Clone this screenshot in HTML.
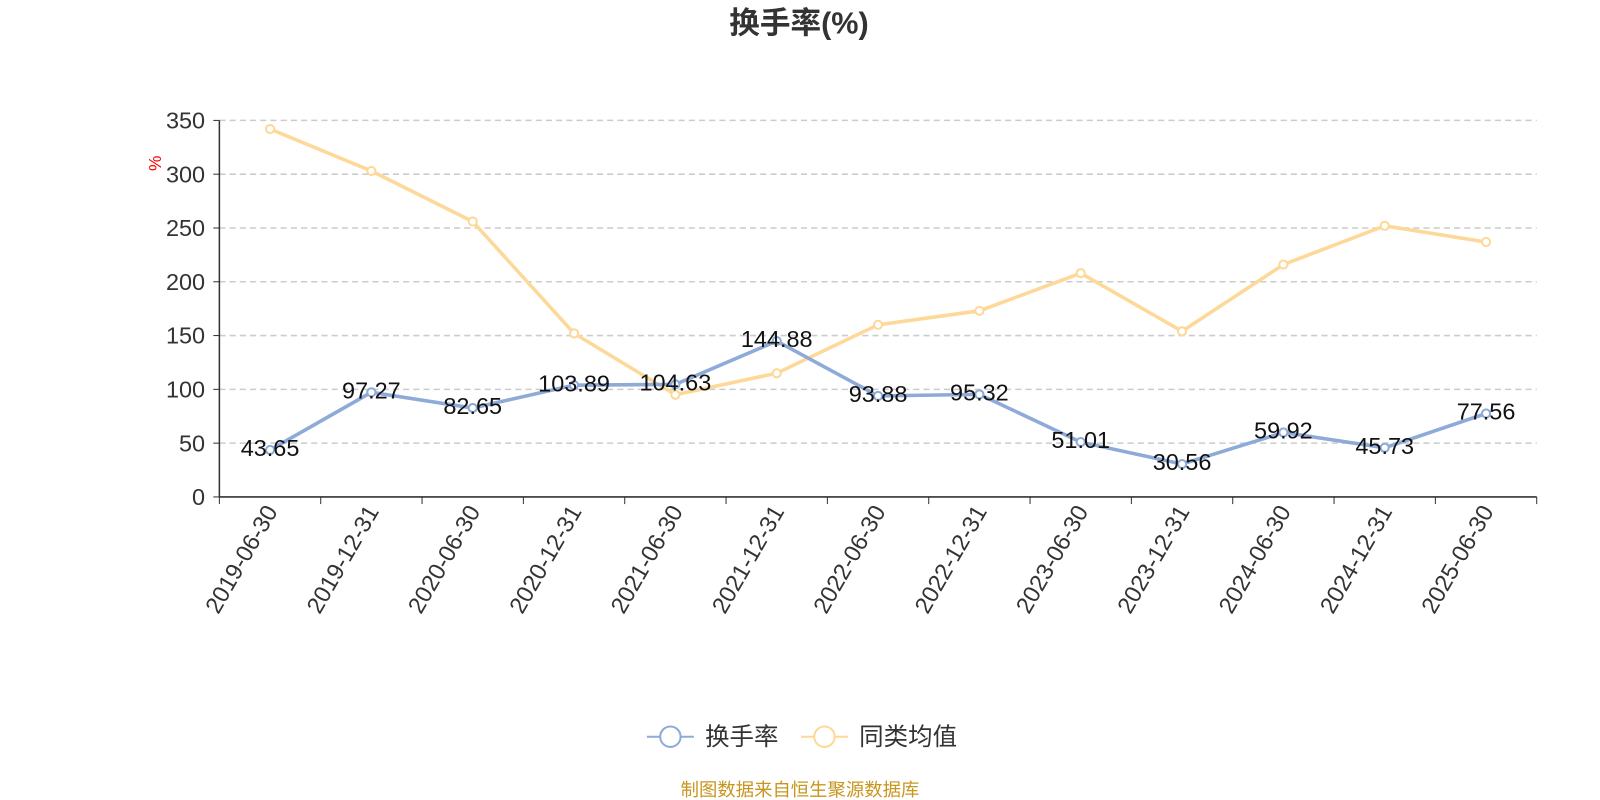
<!DOCTYPE html>
<html><head><meta charset="utf-8"><style>
body{margin:0;background:#fff;}
svg{display:block;font-family:"Liberation Sans","Noto Sans CJK SC",sans-serif;}
</style></head><body>
<svg id="chart" width="1600" height="800">
<g transform="scale(1.0204)">
<text x="783" y="33" text-anchor="middle" font-size="30" font-weight="bold" fill="#333">换手率(%)</text>
<text x="0" y="0" transform="translate(158,160) rotate(-90)" text-anchor="middle" font-size="17" fill="red">%</text>
<g id="grid"></g><g id="axes"></g><g id="series"></g>
<g>
<g>
<line x1="634" y1="722" x2="680" y2="722" stroke="#8eaad8" stroke-width="2"/>
<circle cx="657" cy="722" r="10" fill="#fff" stroke="#8eaad8" stroke-width="2"/>
<text x="691" y="730" font-size="24" fill="#333">换手率</text></g>
<g>
<line x1="785" y1="722" x2="831" y2="722" stroke="#fdd899" stroke-width="2"/>
<circle cx="808" cy="722" r="10" fill="#fff" stroke="#fdd899" stroke-width="2"/>
<text x="842" y="730" font-size="24" fill="#333">同类均值</text></g>
</g>
<text x="784" y="780" text-anchor="middle" font-size="18" fill="#c8961e">制图数据来自恒生聚源数据库</text>
</g>
</svg>
<script>
const categories=["2019-06-30","2019-12-31","2020-06-30","2020-12-31","2021-06-30","2021-12-31","2022-06-30","2022-12-31","2023-06-30","2023-12-31","2024-06-30","2024-12-31","2025-06-30"];
const turnover=[43.65,97.27,82.65,103.89,104.63,144.88,93.88,95.32,51.01,30.56,59.92,45.73,77.56];
const peerAvg=[342,303,256,152,95,115,160,173,208,154,216,252,237];
const yTicks=[0,50,100,150,200,250,300,350];
const NS="http://www.w3.org/2000/svg";
const L=215,R=1506,T=118,B=487,yMax=350;
const bw=(R-L)/categories.length;
const xPos=i=>L+bw*(i+0.5);
const yPos=v=>B-(v/yMax)*(B-T);
function mk(tag,attrs,parent){const e=document.createElementNS(NS,tag);for(const k in attrs)e.setAttribute(k,attrs[k]);parent.appendChild(e);return e;}
const grid=document.getElementById('grid'),axes=document.getElementById('axes'),ser=document.getElementById('series');
yTicks.forEach(v=>{
 if(v>0){const g=mk('line',{x1:L,x2:R,y1:yPos(v),y2:yPos(v),stroke:'#ccc','stroke-dasharray':'6,4','stroke-width':1.5},grid);
 
 }
 mk('line',{x1:L-6,x2:L,y1:yPos(v),y2:yPos(v),stroke:'#333'},axes);
 const tx=mk('text',{x:L-14,y:yPos(v)+8,'text-anchor':'end','font-size':23,fill:'#333'},axes);
 tx.textContent=v;
 
 
});
const ya=mk('line',{x1:L,x2:L,y1:T,y2:B,stroke:'#333','stroke-width':1.5},axes);


const xa=mk('line',{x1:L,x2:R,y1:B,y2:B,stroke:'#333','stroke-width':1.5},axes);


for(let i=0;i<=categories.length;i++){mk('line',{x1:L+bw*i,x2:L+bw*i,y1:B,y2:B+7,stroke:'#333'},axes);}
categories.forEach((c,i)=>{
 const x=xPos(i);
 const t=mk('text',{x:0,y:0,transform:`translate(${x+8},${B+14}) rotate(-60)`,'text-anchor':'end','font-size':23,fill:'#333'},axes);
 t.textContent=c;
 
 
});
function drawLine(vals,color,name){
 const p=mk('polyline',{points:vals.map((v,i)=>xPos(i)+','+yPos(v)).join(' '),fill:'none',stroke:color,'stroke-width':3.5},ser);
 
 
 vals.forEach((v,i)=>{
  const c=mk('circle',{cx:xPos(i),cy:yPos(v),r:4,fill:'#fff',stroke:color,'stroke-width':2},ser);
  
  
 });
}
drawLine(peerAvg,'#fdd899','peer-average');
drawLine(turnover,'#8eaad8','turnover');
turnover.forEach((v,i)=>{
 const t=mk('text',{x:xPos(i),y:yPos(v)+6,'text-anchor':'middle','font-size':23,fill:'#111'},ser);
 t.textContent=v.toFixed(2);
 
 
});
</script>
</body></html>
